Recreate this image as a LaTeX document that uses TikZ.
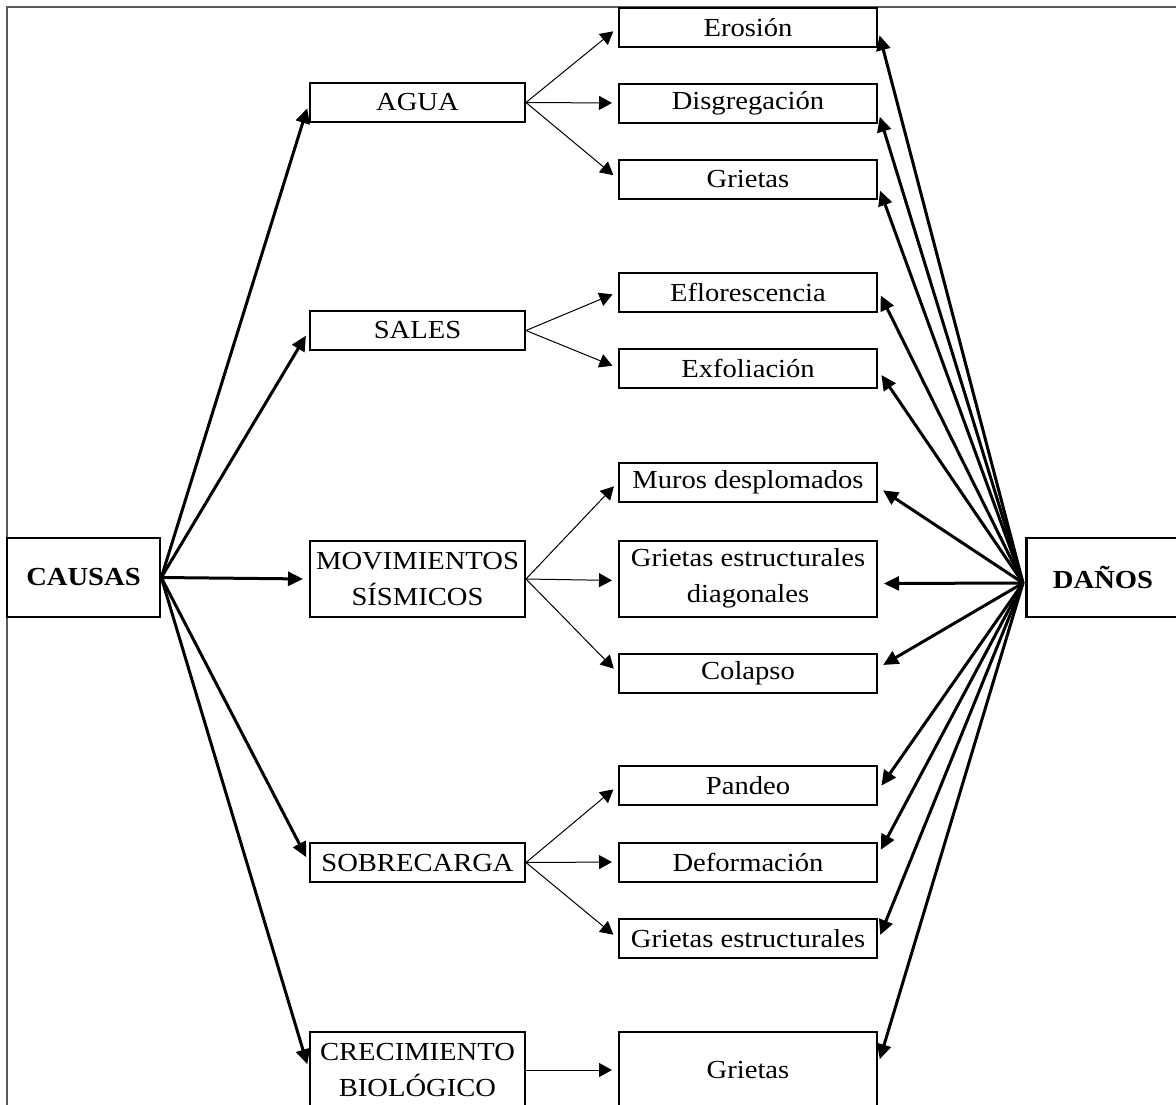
\documentclass[tikz,border=0pt]{standalone}
\usepackage{fontspec}
\setmainfont[FakeStretch=1.1]{Liberation Serif}
\usetikzlibrary{arrows.meta,calc}
\begin{document}
\begin{tikzpicture}[x=0.5pt,y=-0.5pt,
  box/.style={draw, line width=1pt, inner sep=0pt, align=center, font=\fontsize{13}{18}\selectfont},
  bigbox/.style={box, line width=1.3pt, minimum width=76.5pt, minimum height=39.5pt, font=\fontsize{13}{18}\selectfont\bfseries},
  cause/.style={box, minimum width=107.5pt, minimum height=19.5pt},
  damage/.style={box, minimum width=129pt, minimum height=19.5pt},
  tall/.style={minimum height=38pt},
  thinarr/.style={-{Triangle[length=6.5pt,width=7pt]}, line width=0.5pt, shorten >=3pt},
  thickarr/.style={-{Triangle[length=7.5pt,width=7pt]}, line width=1.5pt, shorten >=3pt},
]
\useasboundingbox (0,0) rectangle (1176,1104);
% frame
\draw[black!65, line width=0.6pt] (7,1115) -- (7,7) -- (1190,7);

% main boxes
\node[bigbox] (causas) at (83.5,577.5) {CAUSAS};
\node[bigbox] (danos) at (1103,577.5) {DAÑOS};

% causes
\node[cause] (agua) at (417.5,102.5) {AGUA};
\node[cause] (sales) at (417.5,330.5) {SALES};
\node[cause, tall] (mov) at (417.5,579) {MOVIMIENTOS\\SÍSMICOS};
\node[cause] (sobre) at (417.5,862.5) {SOBRECARGA};
\node[cause, tall] (crec) at (417.5,1070) {CRECIMIENTO\\BIOLÓGICO};

% damages
\node[damage] (ero) at (748,27.5) {Erosión};
\node[damage] (dis) at (748,103) {Disgregación};
\node[damage] (gri1) at (748,179) {Grietas};
\node[damage] (eflo) at (748,292) {Eflorescencia};
\node[damage] (exfo) at (748,368) {Exfoliación};
\node[damage] (muros) at (748,482) {Muros desplomados};
\node[damage, tall] (ged) at (748,578.5) {Grietas estructurales\\diagonales};
\node[damage] (cola) at (748,673) {Colapso};
\node[damage] (pand) at (748,785.5) {Pandeo};
\node[damage] (defo) at (748,862) {Deformación};
\node[damage] (ge) at (748,938.5) {Grietas estructurales};
\node[damage, tall] (gri2) at (748,1070) {Grietas};

% CAUSAS -> causes
\foreach \t in {agua,sales,mov,sobre,crec}
  \draw[thickarr] (causas.east) -- (\t.west);

% causes -> damages
\draw[thinarr] (agua.east) -- (ero.west);
\draw[thinarr] (agua.east) -- (dis.west);
\draw[thinarr] (agua.east) -- (gri1.west);
\draw[thinarr] (sales.east) -- (eflo.west);
\draw[thinarr] (sales.east) -- (exfo.west);
\draw[thinarr] (mov.east) -- (muros.west);
\draw[thinarr] (mov.east) -- ([yshift=-1pt]ged.west);
\draw[thinarr] (mov.east) -- (cola.west);
\draw[thinarr] (sobre.east) -- (pand.west);
\draw[thinarr] (sobre.east) -- (defo.west);
\draw[thinarr] (sobre.east) -- (ge.west);
\draw[thinarr] (crec.east) -- (gri2.west);

% DAÑOS -> damages
\coordinate (dh) at (1023,583);
\draw[thickarr] (dh) -- ([yshift=-1pt]ero.east);
\draw[thickarr] (dh) -- ([yshift=-4pt]dis.east);
\draw[thickarr] (dh) -- ([yshift=-3pt]gri1.east);
\draw[thickarr] (dh) -- ([yshift=1pt]eflo.east);
\draw[thickarr] (dh) -- ([yshift=-1pt]exfo.east);
\draw[thickarr] (dh) -- ([yshift=-2.5pt]muros.east);
\draw[thickarr] (dh) -- ([yshift=-2.5pt]ged.east);
\draw[thickarr] (dh) -- ([yshift=2.5pt]cola.east);
\draw[thickarr] (dh) -- ([yshift=-2.5pt]pand.east);
\draw[thickarr] (dh) -- ([yshift=3.5pt]defo.east);
\draw[thickarr] (dh) -- ([yshift=-1pt]ge.east);
\draw[thickarr] (dh) -- ([yshift=2.5pt]gri2.east);
\end{tikzpicture}
\end{document}
